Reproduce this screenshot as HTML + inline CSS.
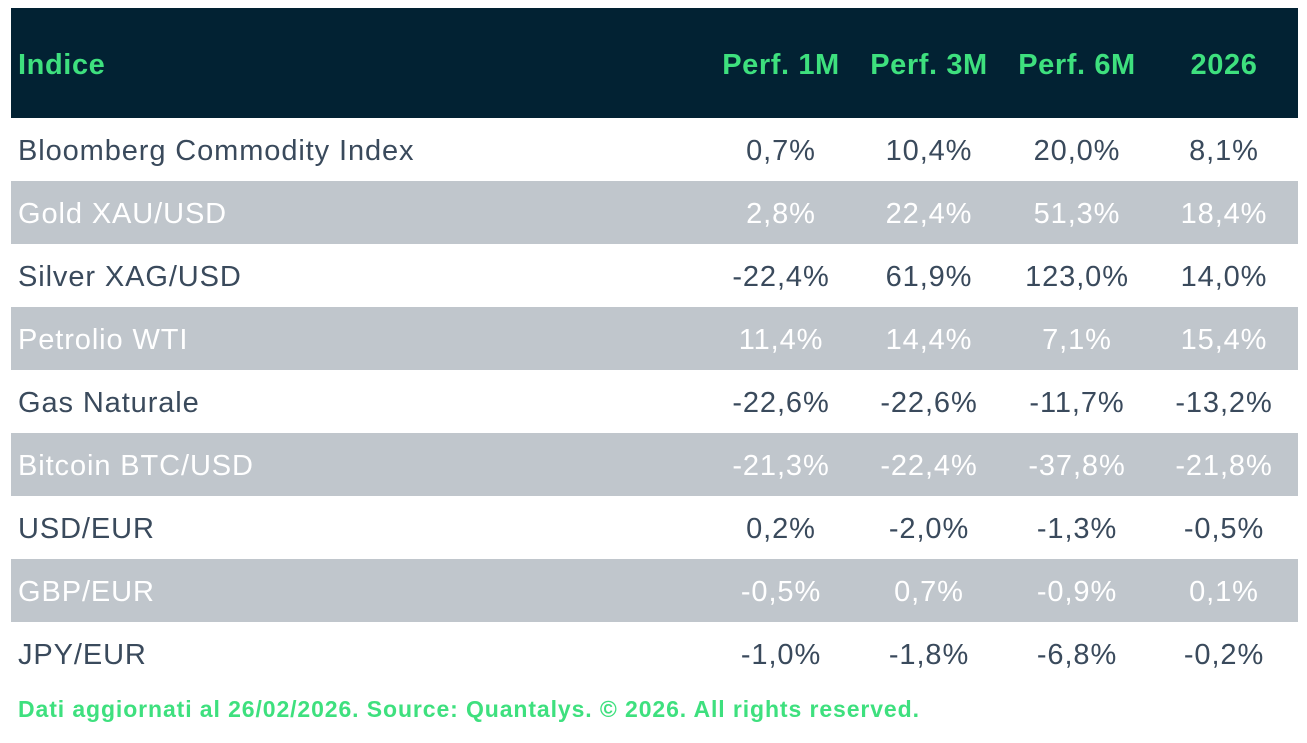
<!DOCTYPE html><html><head><style>
body{margin:0;width:1307px;height:743px;background:#fff;font-family:"Liberation Sans",sans-serif;position:relative;overflow:hidden}
.hd{position:absolute;left:11px;top:8px;width:1287px;height:110px;background:#022233}
.r{position:absolute;left:11px;width:1287px;height:63px}
.g{background:#c0c6cc;color:#fff}
.w{color:#3a4a5c}
.t{position:absolute;top:2px;line-height:63px;font-size:29px;letter-spacing:0.9px;white-space:nowrap}
.c{transform:translateX(-50%)}
.h{color:#3ee07e;font-weight:bold;font-size:29px;letter-spacing:0.6px;position:absolute;top:8px;line-height:114px;white-space:nowrap}
.f{position:absolute;left:18px;top:696px;color:#3ee07e;font-weight:bold;font-size:23px;letter-spacing:0.9px;white-space:nowrap}
</style></head><body>
<div class="hd"></div>
<div class="h" style="left:18px">Indice</div>
<div class="h c" style="left:781px">Perf. 1M</div>
<div class="h c" style="left:929px">Perf. 3M</div>
<div class="h c" style="left:1077px">Perf. 6M</div>
<div class="h c" style="left:1224px">2026</div>
<div class="r w" style="top:118px"><span class="t" style="left:7px">Bloomberg Commodity Index</span><span class="t c" style="left:770px">0,7%</span><span class="t c" style="left:918px">10,4%</span><span class="t c" style="left:1066px">20,0%</span><span class="t c" style="left:1213px">8,1%</span></div>
<div class="r g" style="top:181px"><span class="t" style="left:7px">Gold XAU/USD</span><span class="t c" style="left:770px">2,8%</span><span class="t c" style="left:918px">22,4%</span><span class="t c" style="left:1066px">51,3%</span><span class="t c" style="left:1213px">18,4%</span></div>
<div class="r w" style="top:244px"><span class="t" style="left:7px">Silver XAG/USD</span><span class="t c" style="left:770px">-22,4%</span><span class="t c" style="left:918px">61,9%</span><span class="t c" style="left:1066px">123,0%</span><span class="t c" style="left:1213px">14,0%</span></div>
<div class="r g" style="top:307px"><span class="t" style="left:7px">Petrolio WTI</span><span class="t c" style="left:770px">11,4%</span><span class="t c" style="left:918px">14,4%</span><span class="t c" style="left:1066px">7,1%</span><span class="t c" style="left:1213px">15,4%</span></div>
<div class="r w" style="top:370px"><span class="t" style="left:7px">Gas Naturale</span><span class="t c" style="left:770px">-22,6%</span><span class="t c" style="left:918px">-22,6%</span><span class="t c" style="left:1066px">-11,7%</span><span class="t c" style="left:1213px">-13,2%</span></div>
<div class="r g" style="top:433px"><span class="t" style="left:7px">Bitcoin BTC/USD</span><span class="t c" style="left:770px">-21,3%</span><span class="t c" style="left:918px">-22,4%</span><span class="t c" style="left:1066px">-37,8%</span><span class="t c" style="left:1213px">-21,8%</span></div>
<div class="r w" style="top:496px"><span class="t" style="left:7px">USD/EUR</span><span class="t c" style="left:770px">0,2%</span><span class="t c" style="left:918px">-2,0%</span><span class="t c" style="left:1066px">-1,3%</span><span class="t c" style="left:1213px">-0,5%</span></div>
<div class="r g" style="top:559px"><span class="t" style="left:7px">GBP/EUR</span><span class="t c" style="left:770px">-0,5%</span><span class="t c" style="left:918px">0,7%</span><span class="t c" style="left:1066px">-0,9%</span><span class="t c" style="left:1213px">0,1%</span></div>
<div class="r w" style="top:622px"><span class="t" style="left:7px">JPY/EUR</span><span class="t c" style="left:770px">-1,0%</span><span class="t c" style="left:918px">-1,8%</span><span class="t c" style="left:1066px">-6,8%</span><span class="t c" style="left:1213px">-0,2%</span></div>
<div class="f">Dati aggiornati al 26/02/2026. Source: Quantalys. © 2026. All rights reserved.</div>
</body></html>
